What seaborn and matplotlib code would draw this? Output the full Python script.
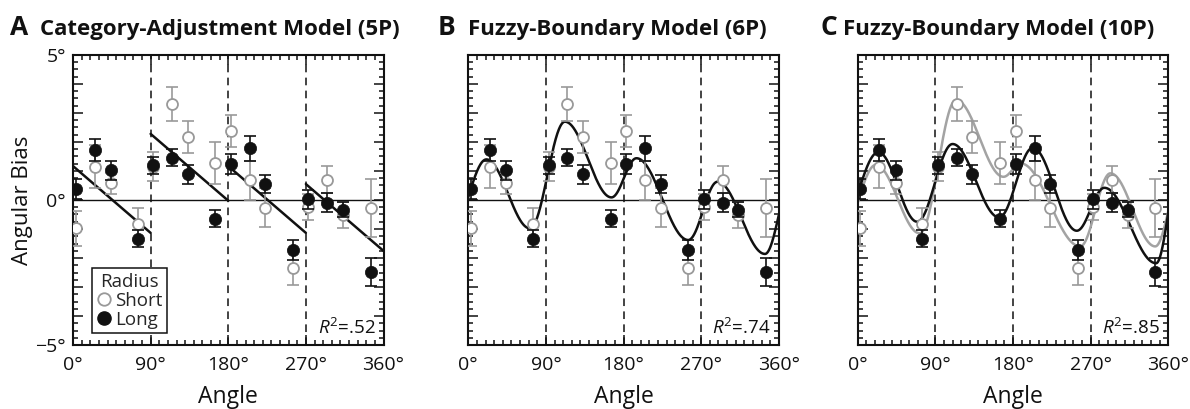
import numpy as np
import pandas as pd
import matplotlib
matplotlib.use("Agg")
import matplotlib.pyplot as plt
from matplotlib.lines import Line2D
from matplotlib.ticker import MultipleLocator, FixedLocator, FuncFormatter
import seaborn as sns

# ---------------- data ----------------
angles = [3, 25, 44, 75, 93, 115, 133, 165, 183, 205, 223, 255, 273, 295, 313, 345]
long_bias = [0.39, 1.71, 1.02, -1.33, 1.20, 1.46, 0.88, -0.65, 1.24, 1.78, 0.55, -1.73, 0.02, -0.09, -0.33, -2.48]
long_err = [0.35, 0.38, 0.32, 0.28, 0.29, 0.29, 0.32, 0.29, 0.33, 0.43, 0.31, 0.34, 0.34, 0.33, 0.25, 0.49]
short_bias = [-0.98, 1.15, 0.57, -0.84, 1.15, 3.31, 2.18, 1.27, 2.39, 0.68, -0.26, -2.33, -0.23, 0.70, -0.52, -0.26]
short_err = [0.60, 0.73, 0.35, 0.55, 0.50, 0.60, 0.56, 0.73, 0.55, 0.68, 0.66, 0.60, 0.45, 0.47, 0.46, 1.00]

# Category-adjustment model: value at the start of each quadrant and common slope
cat_quadrant_start = [0, 90, 180, 270]
cat_intercepts = [1.17, 2.28, 1.17, 0.55]
cat_slope = -0.0256

# Fuzzy-boundary model curves: knots (start, extrema, end)
fb6_angles = [0, 21, 71.5, 112, 166, 195, 255, 289, 344, 360]
fb6_values = [0.10, 1.40, -0.98, 2.70, 0.09, 1.44, -1.38, 0.63, -1.86, -0.52]
fb10_long_angles = [0, 24, 69, 110, 164, 203, 254, 286, 346, 360]
fb10_long_values = [0.20, 1.65, -0.75, 1.93, -0.60, 1.80, -1.06, 0.42, -2.18, -0.45]
fb10_short_angles = [0, 21, 72, 114, 169, 189, 258, 293, 345, 360]
fb10_short_values = [-0.10, 1.21, -1.15, 3.45, 0.80, 1.26, -1.60, 0.92, -1.60, -0.40]

panel_letters = ["A", "B", "C"]
panel_titles = ["Category-Adjustment Model (5P)", "Fuzzy-Boundary Model (6P)", "Fuzzy-Boundary Model (10P)"]
r2_labels = [".52", ".74", ".85"]
xtick_vals = [0, 90, 180, 270, 360]
xtick_labels = ["0°", "90°", "180°", "270°", "360°"]
ytick_labeled = {5: "5°", 0: "0°", -5: "\u22125°"}
legend_labels = ["Short", "Long"]

# ---------------- style ----------------
sns.set_theme(style="ticks")
FONT = ["Open Sans", "DejaVu Sans"]
plt.rcParams["font.family"] = FONT
plt.rcParams["mathtext.fontset"] = "custom"
plt.rcParams["mathtext.it"] = "Open Sans:italic"
plt.rcParams["mathtext.rm"] = "Open Sans"

GREY = "#999999"
GREY_LINE = "#a3a3a3"
BLACK = "#111111"

df = pd.DataFrame({"angle": angles, "long": long_bias, "short": short_bias})


def wave(kx, ky, x):
    """Smooth model curve through start/extrema/end knots."""
    y = np.full_like(x, np.nan, dtype=float)
    n = len(kx)
    for i in range(n - 1):
        x0, x1, y0, y1 = kx[i], kx[i + 1], ky[i], ky[i + 1]
        m = (x >= x0) & (x <= x1)
        t = (x[m] - x0) / (x1 - x0)
        if i == 0:
            s = np.sin(np.pi / 2 * t)
        elif i == n - 2:
            s = 1 - np.cos(np.pi / 2 * t)
        else:
            s = (1 - np.cos(np.pi * t)) / 2
        y[m] = y0 + (y1 - y0) * s
    return y


W, H = 1190, 409
fig = plt.figure(figsize=(W / 100, H / 100), dpi=100)
ax_left_px = [73, 468.3, 857.7]
ax_w_px = 310.5
ax_top_px, ax_bot_px = 55, 345
axes = []
for lp in ax_left_px:
    axes.append(fig.add_axes([lp / W, (H - ax_bot_px) / H, ax_w_px / W, (ax_bot_px - ax_top_px) / H]))

grid = np.linspace(0, 360, 1441)

for k, ax in enumerate(axes):
    ax.set_xlim(0, 360)
    ax.set_ylim(-5, 5)
    # reference lines
    ax.axhline(0, color=BLACK, lw=1.0, zorder=1)
    for v in [90, 180, 270]:
        ax.axvline(v, color=BLACK, lw=1.1, ls=(0, (5, 3.5)), zorder=1)

    # model curves
    if k == 0:
        for q0, b in zip(cat_quadrant_start, cat_intercepts):
            xs = np.linspace(q0, q0 + 90, 50)
            sns.lineplot(x=xs, y=b + cat_slope * (xs - q0), ax=ax, color=BLACK, lw=1.8, zorder=2)
    elif k == 1:
        sns.lineplot(x=grid, y=wave(fb6_angles, fb6_values, grid), ax=ax, color=BLACK, lw=1.8, zorder=2)
    else:
        sns.lineplot(x=grid, y=wave(fb10_short_angles, fb10_short_values, grid), ax=ax,
                     color=GREY_LINE, lw=1.8, zorder=2)
        sns.lineplot(x=grid, y=wave(fb10_long_angles, fb10_long_values, grid), ax=ax,
                     color=BLACK, lw=1.8, zorder=2)

    # data
    ax.errorbar(angles, short_bias, yerr=short_err, fmt="none", ecolor=GREY, elinewidth=1.2,
                capsize=4.5, capthick=1.2, zorder=3)
    sns.scatterplot(data=df, x="angle", y="short", ax=ax, s=62, facecolor="white",
                    edgecolor=GREY, linewidth=1.3, zorder=4)
    ax.errorbar(angles, long_bias, yerr=long_err, fmt="none", ecolor=BLACK, elinewidth=1.2,
                capsize=4.5, capthick=1.2, zorder=5)
    sns.scatterplot(data=df, x="angle", y="long", ax=ax, s=78, color=BLACK,
                    edgecolor=BLACK, linewidth=0.5, zorder=6)

    # ticks
    ax.xaxis.set_major_locator(FixedLocator(xtick_vals))
    ax.xaxis.set_minor_locator(MultipleLocator(10))
    ax.set_xticklabels(xtick_labels)
    ax.yaxis.set_major_locator(MultipleLocator(1))
    ax.yaxis.set_minor_locator(MultipleLocator(0.25))
    if k == 0:
        ax.yaxis.set_major_formatter(FuncFormatter(lambda v, p: ytick_labeled.get(int(round(v)), "")))
    else:
        ax.set_yticklabels([])
    ax.tick_params(which="both", direction="in", top=True, right=True, colors=BLACK,
                   labelsize=14, width=1.1)
    ax.tick_params(which="major", length=7)
    ax.tick_params(axis="x", which="major", pad=8)
    ax.tick_params(axis="y", which="major", pad=5)
    ax.tick_params(which="minor", length=3.5)
    for sp in ax.spines.values():
        sp.set_linewidth(1.5)
        sp.set_color(BLACK)
        sp.set_visible(True)

    ax.set_xlabel("Angle", fontsize=16.5, labelpad=8, color=BLACK)
    if k == 0:
        ax.set_ylabel("Angular Bias", fontsize=16, labelpad=2, color=BLACK)
    else:
        ax.set_ylabel("")

    ax.text(0.975, 0.025, r"$R^2$=" + r2_labels[k], transform=ax.transAxes, ha="right",
            va="bottom", fontsize=13.5, color=BLACK)

# legend in panel A
handles = [
    Line2D([], [], ls="none", marker="o", markersize=9, markerfacecolor="white",
           markeredgecolor=GREY, markeredgewidth=1.3),
    Line2D([], [], ls="none", marker="o", markersize=9.5, markerfacecolor=BLACK,
           markeredgecolor=BLACK),
]
leg = axes[0].legend(handles, legend_labels, title="Radius", loc="lower left",
                     bbox_to_anchor=(0.062, 0.04), borderaxespad=0, fontsize=13.5,
                     title_fontsize=13.5, frameon=True, fancybox=False, handlelength=0.7,
                     handletextpad=0.25, borderpad=0.25, labelspacing=0.05, framealpha=1)
leg.get_frame().set_edgecolor(BLACK)
leg.get_frame().set_linewidth(1.1)

# panel titles
letter_x = [10, 438, 820]
title_x = [40, 468, 843]
for lx, tx, L, T in zip(letter_x, title_x, panel_letters, panel_titles):
    fig.text(lx / W, 1 - 35 / H, L, fontsize=19, fontweight="bold", ha="left", va="baseline",
             color=BLACK)
    fig.text(tx / W, 1 - 35 / H, T, fontsize=16, fontweight="bold", ha="left", va="baseline",
             color=BLACK)

fig.savefig("out.png", dpi=100)
